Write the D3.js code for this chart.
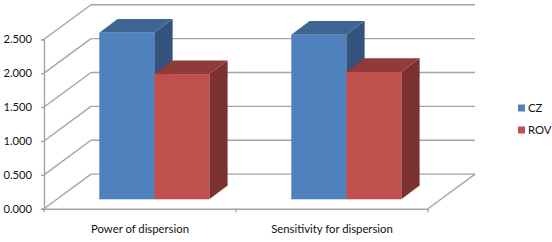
<!DOCTYPE html>
<html><head><meta charset="utf-8">
<style>html,body{margin:0;padding:0;background:#fff}svg{display:block}text{font-family:Lato,"Open Sans",sans-serif;fill:#111}</style>
<script src="https://d3js.org/d3.v7.min.js"></script></head>
<body><div id="c"></div>
<script>
const categories = ["Power of dispersion", "Sensitivity for dispersion"];
const seriesNames = ["CZ", "ROV"];
const czValues = [2.457, 2.43];
const rovValues = [1.848, 1.878];
const yTicks = [0, 0.5, 1, 1.5, 2, 2.5];

const W = 552, H = 242;
const colors = {CZ:{front:"#4f81bd",top:"#3f6592",side:"#33527c"}, ROV:{front:"#c0504d",top:"#8f3b39",side:"#7a3130"}};
const svg = d3.select("#c").append("svg").attr("width",W).attr("height",H);

const x0 = 44, x1 = 428, yBase = 208.7, depthX = 47, depthY = -34.6;
const y = d3.scaleLinear().domain([0,2.5]).range([yBase,39.3]);
const xAxisScale = d3.scaleBand().domain(categories).range([x0,x1]);
const gridColor = "#a4a4a4";
const gridWidth = 1.4;

// back wall + side wall + floor gridlines
const grid = svg.append("g").attr("fill","none").attr("stroke",gridColor).attr("stroke-width",gridWidth);
yTicks.forEach(t=>{
  grid.append("line").attr("x1",x0+depthX).attr("x2",x1+depthX).attr("y1",y(t)+depthY).attr("y2",y(t)+depthY);
  grid.append("line").attr("x1",x0).attr("x2",x0+depthX).attr("y1",y(t)).attr("y2",y(t)+depthY);
});
grid.append("line").attr("x1",x1).attr("x2",x1+depthX).attr("y1",yBase).attr("y2",yBase+depthY);

// left axis
const yAxis = d3.axisLeft(y).tickValues(yTicks).tickFormat(d3.format(".3f")).tickSize(3).tickPadding(9);
const gy = svg.append("g").attr("transform",`translate(${x0},0)`).call(yAxis);
gy.select(".domain").attr("stroke",gridColor).attr("stroke-width",gridWidth);
gy.selectAll(".tick line").attr("stroke",gridColor).attr("stroke-width",gridWidth);
gy.selectAll("text").attr("font-size",11.2).style("font-family",'Lato,sans-serif').attr("fill","#111");

// bottom axis
const gx = svg.append("g").attr("transform",`translate(0,${yBase})`).call(
  d3.axisBottom(xAxisScale).tickSizeOuter(0).tickSize(0).tickPadding(16));
gx.select(".domain").attr("stroke",gridColor).attr("stroke-width",gridWidth);
gx.selectAll("text").attr("font-size",11.3).style("font-family",'Lato,sans-serif').attr("fill","#111");
const edgeTicks = [x0, x0+xAxisScale.step(), x1];
gx.selectAll("line.edge").data(edgeTicks).enter().append("line").attr("class","edge")
  .attr("x1",d=>d).attr("x2",d=>d).attr("y1",0).attr("y2",3.5).attr("stroke",gridColor).attr("stroke-width",gridWidth);

// bars
const barShiftX = 14.3, barShiftY = -9.4, barDX = 18.3, barDY = -13.7;
const band = d3.scaleBand().domain(categories).range([x0+barShiftX,x1+barShiftX]).paddingInner(0.427).paddingOuter(0.2135);
const sub = d3.scaleBand().domain(seriesNames).range([0,band.bandwidth()]);
const rows = [];
categories.forEach((c,i)=>{ rows.push({c,s:"CZ",v:czValues[i]}); rows.push({c,s:"ROV",v:rovValues[i]}); });
const g = svg.append("g");
rows.forEach(d=>{
  const xl = band(d.c)+sub(d.s), xr = xl+sub.bandwidth();
  const yb = y(0)+barShiftY, yt = y(d.v)+barShiftY;
  const c = colors[d.s];
  const path = pts => "M"+pts.map(p=>p.join(",")).join("L")+"Z";
  g.append("path").attr("fill",c.side).attr("d",path([[xr,yt],[xr+barDX,yt+barDY],[xr+barDX,yb+barDY],[xr,yb]]));
  g.append("path").attr("fill",c.top).attr("d",path([[xl,yt],[xl+barDX,yt+barDY],[xr+barDX,yt+barDY],[xr,yt]]));
  g.append("rect").attr("fill",c.front).attr("x",xl).attr("y",yt).attr("width",xr-xl).attr("height",yb-yt);
});

// legend
const legY = d3.scalePoint().domain(seriesNames).range([108,130]);
seriesNames.forEach(s=>{
  svg.append("rect").attr("x",518).attr("y",legY(s)-3.5).attr("width",7).attr("height",7).attr("fill",colors[s].front);
  svg.append("text").attr("x",528).attr("y",legY(s)+4).attr("font-size",11.3).text(s);
});
</script></body></html>
